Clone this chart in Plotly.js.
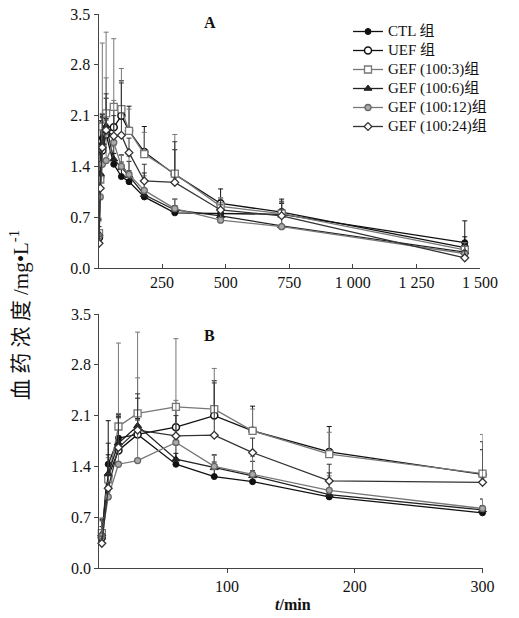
<!DOCTYPE html>
<html><head><meta charset="utf-8">
<script src="https://cdn.plot.ly/plotly-3.0.1.min.js"></script>
<style>html,body{margin:0;padding:0;background:#fff}#chart{width:519px;height:618px}</style>
</head><body><div id="chart"></div>
<script>
const times = [2, 7, 15, 30, 60, 90, 120, 180, 300, 480, 720, 1440];
const seriesNames = ['CTL 组', 'UEF 组', 'GEF (100:3)组', 'GEF (100:6)组', 'GEF (100:12)组', 'GEF (100:24)组'];
const ctl   = [0.45, 1.43, 1.79, 1.84, 1.43, 1.26, 1.19, 0.98, 0.76, 0.75, 0.74, 0.35];
const uef   = [0.42, 1.26, 1.62, 1.84, 1.94, 2.10, 1.89, 1.60, 1.29, 0.89, 0.77, 0.28];
const gef3  = [0.48, 1.22, 1.95, 2.13, 2.22, 2.19, 1.89, 1.57, 1.30, 0.85, 0.75, 0.25];
const gef6  = [0.47, 1.30, 1.72, 1.96, 1.50, 1.38, 1.27, 1.01, 0.80, 0.72, 0.58, 0.22];
const gef12 = [0.44, 0.98, 1.43, 1.48, 1.73, 1.40, 1.29, 1.07, 0.82, 0.66, 0.57, 0.20];
const gef24 = [0.34, 1.10, 1.66, 1.90, 1.82, 1.83, 1.59, 1.20, 1.18, 0.80, 0.72, 0.14];
const ctlSD   = [0.20, 0.60, 0.30, 0.20, 0.15, 0.20, 0.15, 0.10, 0.10, 0.10, 0.15, 0.30];
const uefSD   = [0.15, 0.30, 0.45, 0.50, 0.30, 0.48, 0.34, 0.35, 0.34, 0.20, 0.18, 0.15];
const gef3SD  = [0.20, 0.30, 1.15, 1.12, 0.94, 0.56, 0.30, 0.30, 0.54, 0.12, 0.15, 0.10];
const gef6SD  = [0.20, 0.42, 0.40, 0.10, 0.20, 0.18, 0.20, 0.30, 0.15, 0.15, 0.15, 0.10];
const gef12SD = [0.25, 0.20, 0.70, 1.14, 0.58, 0.15, 0.25, 0.20, 0.13, 0.12, 0.15, 0.10];
const gef24SD = [0.10, 0.20, 0.45, 0.50, 0.28, 0.72, 0.20, 0.23, 0.56, 0.15, 0.20, 0.10];
const yTicks = [0, 0.7, 1.4, 2.1, 2.8, 3.5];
const xTicksA = [250, 500, 750, 1000, 1250, 1500];
const xTickTextA = ['250', '500', '750', '1 000', '1 250', '1 500'];
const xTicksB = [100, 200, 300];

const styles = [
  {line:'#111', marker:{symbol:'circle', size:6, color:'#111', line:{color:'#111', width:1}}},
  {line:'#111', marker:{symbol:'circle', size:7, color:'#fff', line:{color:'#111', width:1.5}}},
  {line:'#777', marker:{symbol:'square', size:7, color:'#fff', line:{color:'#777', width:1.3}}},
  {line:'#222', marker:{symbol:'triangle-up', size:7, color:'#222', line:{color:'#222', width:1}}},
  {line:'#777', marker:{symbol:'circle', size:6, color:'#aaa', line:{color:'#666', width:1.3}}},
  {line:'#333', marker:{symbol:'diamond', size:6, color:'#fff', line:{color:'#333', width:1.3}}}
];
const values = [ctl, uef, gef3, gef6, gef12, gef24];
const sds = [ctlSD, uefSD, gef3SD, gef6SD, gef12SD, gef24SD];

const traces = [];
values.forEach((v, i) => {
  const st = styles[i];
  traces.push({
    x: times, y: v, type:'scatter', mode:'lines+markers',
    name: '<span style="font-size:15px">' + seriesNames[i] + '</span>',
    xaxis:'x', yaxis:'y', line:{color:st.line, width:1.3}, marker: st.marker,
    error_y:{type:'data', array: sds[i], symmetric:false, arrayminus: v.map(()=>0), color: st.line, thickness:1, width:2.5},
    showlegend:true
  });
});
values.forEach((v, i) => {
  const st = styles[i];
  const idx = times.map((t, k) => k).filter(k => times[k] <= 300);
  traces.push({
    x: idx.map(k => times[k]), y: idx.map(k => v[k]), type:'scatter', mode:'lines+markers', name: seriesNames[i],
    xaxis:'x2', yaxis:'y2', line:{color:st.line, width:1.3}, marker: st.marker,
    error_y:{type:'data', array: idx.map(k => sds[i][k]), symmetric:false, arrayminus: idx.map(()=>0), color: st.line, thickness:1, width:2.5},
    showlegend:false, cliponaxis:false
  });
});

const serif = 'Liberation Serif, Times New Roman, Noto Sans CJK SC, serif';
const axisCommon = {showgrid:false, zeroline:false, showline:true, linecolor:'#444', linewidth:1,
  tickcolor:'#444', ticklen:4, tickwidth:1, tickfont:{family:serif, size:16, color:'#111'}};

const layout = {
  width:519, height:618, margin:{l:0, r:0, t:0, b:0}, paper_bgcolor:'#fff', plot_bgcolor:'#fff',
  font:{family:serif, color:'#111'},
  xaxis: Object.assign({}, axisCommon, {domain:[0.1898, 0.9249], range:[0, 1500], anchor:'y',
    tickmode:'array', tickvals:xTicksA, ticktext:xTickTextA, ticks:'inside'}),
  yaxis: Object.assign({}, axisCommon, {domain:[0.5663, 0.9773], range:[0, 3.5], anchor:'x',
    tickmode:'array', tickvals:yTicks, ticktext:yTicks.map(t => t.toFixed(1)), ticks:'outside'}),
  xaxis2: Object.assign({}, axisCommon, {domain:[0.1913, 0.9297], range:[0, 300], anchor:'y2',
    tickmode:'array', tickvals:xTicksB, ticks:'outside'}),
  yaxis2: Object.assign({}, axisCommon, {domain:[0.0809, 0.4919], range:[0, 3.5], anchor:'x2',
    tickmode:'array', tickvals:yTicks, ticktext:yTicks.map(t => t.toFixed(1)), ticks:'outside'}),
  legend:{x:348/519, y:1-17/618, xanchor:'left', yanchor:'top', font:{family:serif, size:11.2, color:'#111'},
    bgcolor:'rgba(0,0,0,0)', itemwidth:30, tracegroupgap:0},
  showlegend:true,
  annotations:[
    {text:'<b>A</b>', xref:'paper', yref:'paper', x:210/519, y:1-22/618, xanchor:'center', yanchor:'middle', showarrow:false, font:{family:serif, size:16, color:'#111'}},
    {text:'<b>B</b>', xref:'paper', yref:'paper', x:209/519, y:1-335/618, xanchor:'center', yanchor:'middle', showarrow:false, font:{family:serif, size:16, color:'#111'}},
    {text:'血&nbsp;药&nbsp;浓&nbsp;度 /mg•L<sup>-1</sup>', xref:'paper', yref:'paper', x:19/519, y:1-315/618, xanchor:'center', yanchor:'middle', textangle:-90, showarrow:false,
      font:{family:serif, size:21, color:'#111'}},
    {text:'<b><i>t</i>/min</b>', xref:'paper', yref:'paper', x:293/519, y:1-604/618, xanchor:'center', yanchor:'middle', showarrow:false, font:{family:serif, size:16, color:'#111'}}
  ]
};
Plotly.newPlot('chart', traces, layout, {displayModeBar:false, staticPlot:true});
</script></body></html>
